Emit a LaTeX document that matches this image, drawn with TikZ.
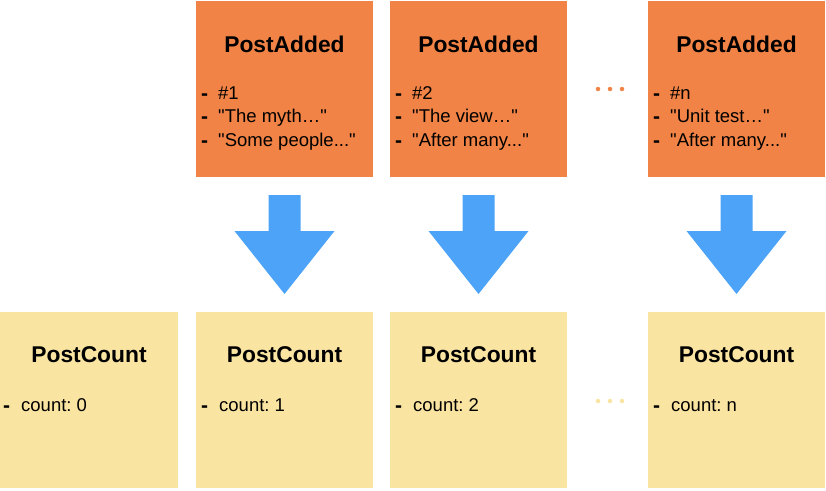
\documentclass[tikz,border=0pt]{standalone}
\usepackage{fontspec}
\setmainfont{Liberation Sans}
\definecolor{evorange}{RGB}{240,131,69}
\definecolor{stateyellow}{RGB}{250,228,161}
\definecolor{arrowblue}{RGB}{76,163,247}
\newcommand{\qd}{\textquotedbl}
\begin{document}
\frenchspacing
\begin{tikzpicture}[x=1pt,y=-1pt,
  evbox/.style={fill=evorange,draw=none},
  stbox/.style={fill=stateyellow,draw=none},
  ttl/.style={anchor=base,inner sep=0pt,font=\fontsize{22.8}{24}\selectfont\bfseries},
  itm/.style={anchor=base west,inner sep=0pt,font=\fontsize{18.5}{20}\selectfont},
  dsh/.style={anchor=base west,inner sep=0pt,font=\fontsize{21}{22}\selectfont\bfseries},
  bigarrow/.style={fill=arrowblue,draw=none},
  dot/.style={circle,inner sep=0pt,minimum size=4.5pt}
]
\useasboundingbox (0,0) rectangle (826,490);

% top event boxes
\foreach \l in {196,390,648}{
  \fill[evbox] (\l,1) rectangle ++(177,176);
}
\node[ttl] (t1) at (284.5,52) {PostAdded};
\node[ttl] (t2) at (478.5,52) {PostAdded};
\node[ttl] (t3) at (736.5,52) {PostAdded};

\foreach \l/\a/\b/\c [count=\i] in {196/{\#1}/{\qd The myth…\qd}/{\qd Some people...\qd},390/{\#2}/{\qd The view…\qd}/{\qd After many...\qd},648/{\#n}/{\qd Unit test…\qd}/{\qd After many...\qd}}{
  \node[dsh] (da\i) at (\l+5,100) {-};
  \node[dsh] (db\i) at (\l+5,123.5) {-};
  \node[dsh] (dc\i) at (\l+5,147) {-};
  \node[itm] (ia\i) at (\l+22,99) {\a};
  \node[itm] (ib\i) at (\l+22,122.5) {\b};
  \node[itm] (ic\i) at (\l+22,146) {\c};
}

% arrows
\foreach \cx [count=\i] in {284.5,478.5,736.5}{
  \fill[bigarrow] (\cx-16,195) -- (\cx+16,195) -- (\cx+16,231) -- (\cx+50,231)
    -- (\cx,294) -- (\cx-50,231) -- (\cx-16,231) -- cycle;
}

% bottom state boxes
\fill[stbox] (-2,312) rectangle (178,488);
\foreach \l in {196,390,648}{
  \fill[stbox] (\l,312) rectangle ++(177,176);
}
\node[ttl] (s0) at (89,362) {PostCount};
\node[ttl] (s1) at (284.5,362) {PostCount};
\node[ttl] (s2) at (478.5,362) {PostCount};
\node[ttl] (s3) at (736.5,362) {PostCount};
\foreach \l/\v [count=\i] in {-2/0,196/1,390/2,648/n}{
  \node[dsh] (cd\i) at (\l+5,412) {-};
  \node[itm] (ct\i) at (\l+23,411) {count: \v};
}

% ellipsis dots
\foreach \x [count=\i] in {598,610,622}{
  \node[dot,fill=evorange] (tdot\i) at (\x,89) {};
  \node[dot,fill=stateyellow] (bdot\i) at (\x,401) {};
}
\end{tikzpicture}
\end{document}
